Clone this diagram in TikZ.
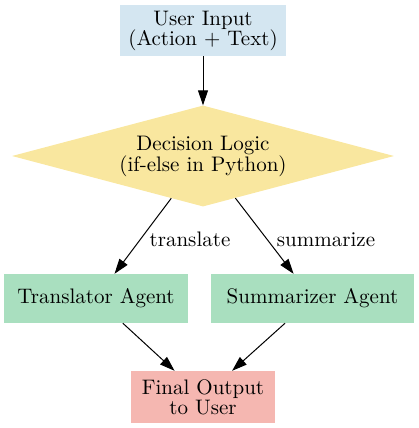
\documentclass[tikz,border=0pt]{standalone}
\usepackage{fontspec}
\setmainfont{lmroman10-regular.otf}
\usetikzlibrary{shapes.geometric,arrows.meta}
\definecolor{cblue}{HTML}{D4E6F1}
\definecolor{cyellow}{HTML}{F9E79F}
\definecolor{cgreen}{HTML}{A9DFBF}
\definecolor{cpink}{HTML}{F5B7B1}
\begin{document}
\begin{tikzpicture}[x=1pt,y=-1pt,
  every node/.style={font=\fontsize{21}{20}\selectfont},
  boxnode/.style={rectangle,inner sep=0pt,align=center,draw=none},
  decnode/.style={diamond,inner sep=0pt,align=center,minimum width=382pt,minimum height=101pt,shape aspect=3.78,fill=cyellow},
  edgelabel/.style={anchor=base,inner sep=0pt},
  conn/.style={line width=1pt,-{Triangle[length=15pt,width=10pt]}}]
\useasboundingbox (0,0) rectangle (419,428);
\node[boxnode,fill=cblue,minimum width=166pt,minimum height=51pt] (input) at (203,30.5) {User Input\\(Action + Text)};
\node[decnode] (dec) at (203,156) {Decision Logic\\(if-else in Python)};
\node[boxnode,fill=cgreen,minimum width=184pt,minimum height=49pt] (trans) at (96,298.5) {Translator Agent};
\node[boxnode,fill=cgreen,minimum width=203pt,minimum height=49pt] (summ) at (312.5,298.5) {Summarizer Agent};
\node[boxnode,fill=cpink,minimum width=144pt,minimum height=52pt] (final) at (203,397) {Final Output\\to User};
\draw[conn] (input) -- (dec);
\draw[conn] (dec) -- (trans);
\draw[conn] (dec) -- (summ);
\draw[conn] (trans) -- (final);
\draw[conn] (summ) -- (final);
\node[edgelabel] (lt) at (190,246) {translate};
\node[edgelabel] (ls) at (326,246) {summarize};
\end{tikzpicture}
\end{document}
